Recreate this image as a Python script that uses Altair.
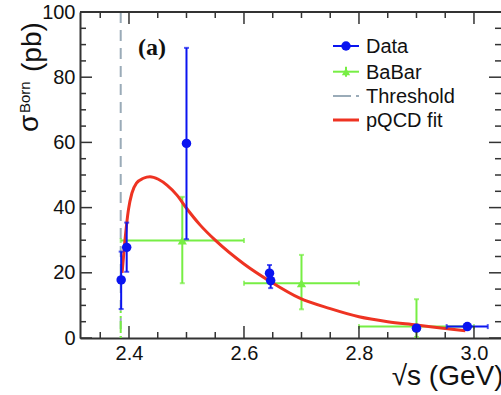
import altair as alt
import pandas as pd

# ---------------- data ----------------
data_x = [2.3864, 2.3960, 2.5000, 2.6444, 2.6464, 2.9000, 2.9884]
data_y = [17.8, 27.8, 59.7, 19.9, 17.6, 3.0, 3.5]
data_ylo = [8.9, 20.3, 30.3, 17.5, 15.3, 2.3, 2.9]
data_yhi = [26.5, 35.4, 89.0, 22.4, 19.9, 3.7, 4.1]
data_xlo = [2.3864, 2.3960, 2.5000, 2.6444, 2.6464, 2.9000, 2.9525]
data_xhi = [2.3864, 2.3960, 2.5000, 2.6444, 2.6464, 2.9000, 3.0240]

babar_x = [2.4927, 2.70, 2.90]
babar_y = [29.9, 16.8, 3.5]
babar_ylo = [16.8, 8.8, 0.3]
babar_yhi = [43.3, 25.5, 11.9]
babar_xlo = [2.3856, 2.60, 2.80]
babar_xhi = [2.60, 2.80, 3.00]

babar_edge_x = [2.3856]
babar_edge_lo = [0.0]
babar_edge_hi = [8.3]

threshold = [2.3856]

fit_x = [2.388, 2.393, 2.399, 2.405, 2.413, 2.425, 2.4365, 2.451, 2.466, 2.483,
         2.500, 2.5235, 2.550, 2.600, 2.646, 2.697, 2.750, 2.800, 2.850, 2.900,
         2.950, 2.985]
fit_y = [20.0, 30.0, 39.3, 44.4, 47.5, 49.0, 49.5, 48.7, 46.9, 43.9,
         39.8, 34.7, 30.0, 22.7, 17.3, 12.2, 9.0, 6.5, 5.0, 4.0,
         2.9, 2.2]

x_major = [2.4, 2.6, 2.8, 3.0]
x_minor = [2.35, 2.45, 2.5, 2.55, 2.65, 2.7, 2.75, 2.85, 2.9, 2.95]
y_major = [0, 20, 40, 60, 80, 100]
y_minor = [5, 10, 15, 25, 30, 35, 45, 50, 55, 65, 70, 75, 85, 90, 95]

legend_labels = ["Data", "BaBar", "Threshold", "pQCD fit"]

# ---------------- styling ----------------
BLUE = "#0a14f0"
GREEN = "#77ee44"
RED = "#ee3322"
GRAY = "#9aabb8"
AX = "#333333"
FONT = "Liberation Sans"
W, H = 421, 326

xs = alt.Scale(domain=[2.3148, 3.047], nice=False, zero=False)
ys = alt.Scale(domain=[0, 100], nice=False, zero=False)

xaxis = alt.Axis(values=x_major, format=".1f", ticks=False, grid=False, domain=True,
                 domainColor=AX, domainWidth=2, labelFont=FONT, labelFontSize=20,
                 labelColor="#111", labelPadding=5, labelFlush=False,
                 title="√s (GeV)", titleFont=FONT, titleFontSize=28,
                 titleFontWeight="normal", titleColor="#111", titleX=423, titleY=46,
                 titleAlign="right", titleBaseline="alphabetic")
yaxis = alt.Axis(values=y_major, ticks=False, grid=False, domain=True,
                 domainColor=AX, domainWidth=2, labelFont=FONT, labelFontSize=20,
                 labelColor="#111", labelPadding=5, labelFlush=False, title=None)


def X(f):
    return alt.X(f, type="quantitative", scale=xs, axis=xaxis)


def Y(f):
    return alt.Y(f, type="quantitative", scale=ys, axis=yaxis)


df_data = pd.DataFrame({"x": data_x, "y": data_y, "ylo": data_ylo, "yhi": data_yhi,
                        "xlo": data_xlo, "xhi": data_xhi})
df_bb = pd.DataFrame({"x": babar_x, "y": babar_y, "ylo": babar_ylo, "yhi": babar_yhi,
                      "xlo": babar_xlo, "xhi": babar_xhi})
df_edge = pd.DataFrame({"x": babar_edge_x, "lo": babar_edge_lo, "hi": babar_edge_hi})
df_thr = pd.DataFrame({"x": threshold})
df_fit = pd.DataFrame({"x": fit_x, "y": fit_y})
df_xmaj = pd.DataFrame({"x": x_major})
df_xmin = pd.DataFrame({"x": x_minor})
df_ymaj = pd.DataFrame({"y": y_major})
df_ymin = pd.DataFrame({"y": y_minor})
one = pd.DataFrame({"k": [0]})

layers = []

# threshold line
layers.append(alt.Chart(df_thr).mark_rule(color=GRAY, strokeWidth=2, strokeDash=[11, 7]).encode(
    x=X("x"), y=alt.value(0), y2=alt.value(H)))

# BaBar error bars
layers.append(alt.Chart(df_bb).mark_rule(color=GREEN, strokeWidth=2).encode(
    x=X("xlo"), x2="xhi", y=Y("y")))
layers.append(alt.Chart(df_bb).mark_rule(color=GREEN, strokeWidth=2).encode(
    x=X("x"), y=Y("ylo"), y2="yhi"))
for f in ["ylo", "yhi"]:
    layers.append(alt.Chart(df_bb).mark_tick(color=GREEN, orient="horizontal", size=5,
                                             thickness=2).encode(x=X("x"), y=Y(f)))
for f in ["xlo", "xhi"]:
    layers.append(alt.Chart(df_bb).mark_tick(color=GREEN, orient="vertical", size=5,
                                             thickness=2).encode(x=X(f), y=Y("y")))
layers.append(alt.Chart(df_edge).mark_rule(color=GREEN, strokeWidth=2, strokeDash=[2, 3, 12, 3]).encode(
    x=X("x"), y=Y("lo"), y2="hi"))
layers.append(alt.Chart(df_bb).mark_point(shape="triangle-up", filled=True, size=85,
                                          color=GREEN, opacity=1).encode(x=X("x"), y=Y("y")))

# pQCD fit
layers.append(alt.Chart(df_fit).mark_line(color=RED, strokeWidth=3, interpolate="monotone").encode(
    x=X("x"), y=Y("y")))

# Data error bars
layers.append(alt.Chart(df_data).mark_rule(color=BLUE, strokeWidth=2).encode(
    x=X("x"), y=Y("ylo"), y2="yhi"))
layers.append(alt.Chart(df_data).mark_rule(color=BLUE, strokeWidth=2).encode(
    x=X("xlo"), x2="xhi", y=Y("y")))
for f in ["ylo", "yhi"]:
    layers.append(alt.Chart(df_data).mark_tick(color=BLUE, orient="horizontal", size=5,
                                               thickness=2).encode(x=X("x"), y=Y(f)))
for f in ["xlo", "xhi"]:
    layers.append(alt.Chart(df_data).mark_tick(color=BLUE, orient="vertical", size=5,
                                               thickness=2).encode(x=X(f), y=Y("y")))
layers.append(alt.Chart(df_data).mark_point(shape="circle", filled=True, size=90,
                                            color=BLUE, opacity=1).encode(x=X("x"), y=Y("y")))

# inward ticks on all four sides
for df, ln in [(df_xmaj, 12), (df_xmin, 6)]:
    layers.append(alt.Chart(df).mark_rule(color=AX, strokeWidth=1.5).encode(
        x=X("x"), y=alt.value(H), y2=alt.value(H - ln)))
    layers.append(alt.Chart(df).mark_rule(color=AX, strokeWidth=1.5).encode(
        x=X("x"), y=alt.value(0), y2=alt.value(ln)))
for df, ln in [(df_ymaj, 12), (df_ymin, 6)]:
    layers.append(alt.Chart(df).mark_rule(color=AX, strokeWidth=1.5).encode(
        y=Y("y"), x=alt.value(0), x2=alt.value(ln)))
    layers.append(alt.Chart(df).mark_rule(color=AX, strokeWidth=1.5).encode(
        y=Y("y"), x=alt.value(W), x2=alt.value(W - ln)))
# top frame line
layers.append(alt.Chart(one).mark_rule(color=AX, strokeWidth=2).encode(
    x=alt.value(0), x2=alt.value(W), y=alt.value(0)))

# y title: sigma^Born (pb)
layers.append(alt.Chart(one).mark_text(text="σ", font=FONT, fontSize=28, angle=270,
                                       align="left", baseline="alphabetic", color="#111").encode(
    x=alt.value(-42), y=alt.value(120)))
layers.append(alt.Chart(one).mark_text(text="Born", font=FONT, fontSize=15, angle=270,
                                       align="left", baseline="alphabetic", color="#111").encode(
    x=alt.value(-50), y=alt.value(101)))
layers.append(alt.Chart(one).mark_text(text="(pb)", font=FONT, fontSize=28, angle=270,
                                       align="left", baseline="alphabetic", color="#111").encode(
    x=alt.value(-39), y=alt.value(60)))

# panel label
layers.append(alt.Chart(one).mark_text(text="(a)", font="Liberation Serif", fontSize=24,
                                       fontWeight="bold", align="left", baseline="alphabetic",
                                       color="#111").encode(x=alt.value(58), y=alt.value(43)))

# manual legend
rows = [34, 59.7, 84, 108]
lx0, lx1, lxm, ltx = 253, 279, 266, 286
layers.append(alt.Chart(one).mark_rule(color=BLUE, strokeWidth=2).encode(
    x=alt.value(lx0), x2=alt.value(lx1), y=alt.value(rows[0])))
layers.append(alt.Chart(one).mark_point(shape="circle", filled=True, size=90, color=BLUE,
                                        opacity=1).encode(x=alt.value(lxm), y=alt.value(rows[0])))
layers.append(alt.Chart(one).mark_rule(color=GREEN, strokeWidth=2).encode(
    x=alt.value(lx0), x2=alt.value(lx1), y=alt.value(rows[1])))
layers.append(alt.Chart(one).mark_rule(color=GREEN, strokeWidth=2).encode(
    x=alt.value(lxm), y=alt.value(rows[1] - 5), y2=alt.value(rows[1] + 5)))
layers.append(alt.Chart(one).mark_point(shape="triangle-up", filled=True, size=70, color=GREEN,
                                        opacity=1).encode(x=alt.value(lxm), y=alt.value(rows[1])))
layers.append(alt.Chart(one).mark_rule(color=GRAY, strokeWidth=2, strokeDash=[18, 5]).encode(
    x=alt.value(lx0), x2=alt.value(lx1), y=alt.value(rows[2])))
layers.append(alt.Chart(one).mark_rule(color=RED, strokeWidth=3).encode(
    x=alt.value(lx0), x2=alt.value(lx1), y=alt.value(rows[3])))
for lab, r in zip(legend_labels, rows):
    layers.append(alt.Chart(one).mark_text(text=lab, font=FONT, fontSize=20, align="left",
                                           baseline="alphabetic", color="#111").encode(
        x=alt.value(ltx), y=alt.value(r + 7)))

chart = alt.layer(*layers).properties(
    width=W, height=H, autosize="none",
    padding={"left": 80, "top": 12, "right": 0, "bottom": 57},
    background="white",
).configure_view(strokeWidth=0)

chart.save("out.html", embed_options={"renderer": "svg", "actions": False})
